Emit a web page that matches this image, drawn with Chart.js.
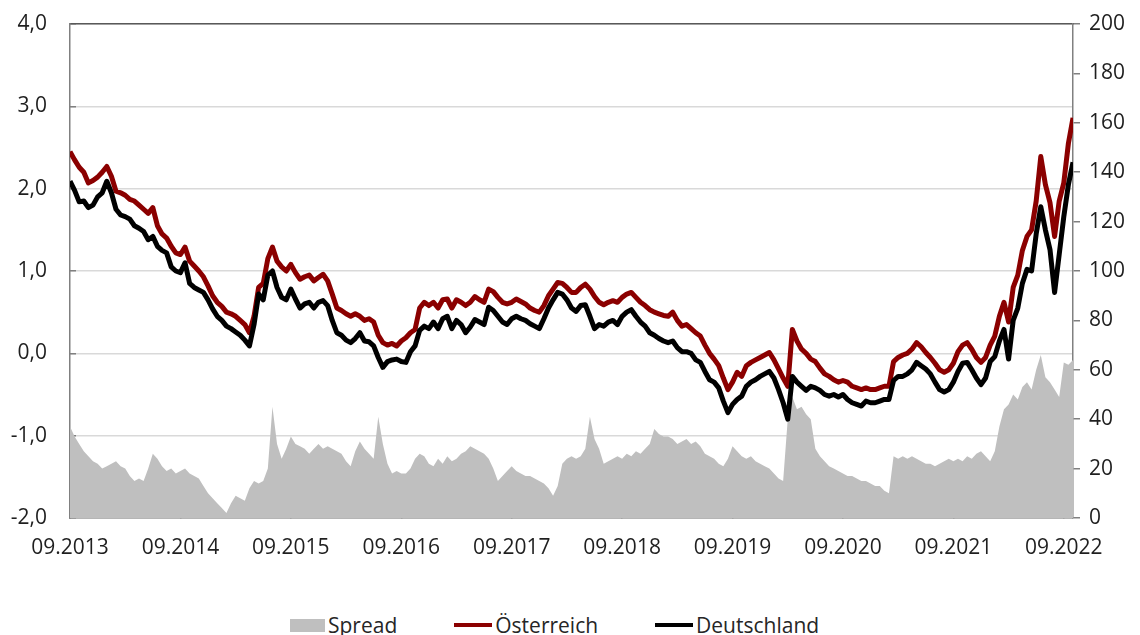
<!DOCTYPE html>
<html>
<head>
<meta charset="utf-8">
<script src="https://cdn.jsdelivr.net/npm/chart.js@4/dist/chart.umd.min.js"></script>
<style>
  html, body { margin: 0; padding: 0; background: #fff; }
  #wrap { position: relative; width: 1140px; height: 635px; }
  #chartBox { position: absolute; left: 0; top: 0; width: 1140px; height: 585px; }
  #legend {
    position: absolute; left: 290px; top: 612px; height: 26px;
    display: flex; align-items: center;
    font-family: 'Open Sans', 'Liberation Sans', sans-serif; font-size: 21px; color: #262626;
  }
  #legend .item { display: flex; align-items: center; margin-right: 57px; }
  #legend .item:last-child { margin-right: 0; }
  #legend .swatch { margin-right: 3px; }
</style>
</head>
<body>
<div id="wrap">
  <div id="chartBox"><canvas id="yieldChart"></canvas></div>
  <div id="legend"></div>
</div>
<script>
// half-month steps starting 09.2013 (index 0) up to 10.2022
const startYear = 2013;
const stepMonths = 0.5;

// 10y yields in %
const oesterreich = [
  2.45, 2.35, 2.26, 2.20, 2.07, 2.10, 2.14, 2.20, 2.27, 2.15, 1.97, 1.95,
  1.92, 1.87, 1.85, 1.80, 1.75, 1.70, 1.77, 1.55, 1.45, 1.40, 1.30, 1.22,
  1.20, 1.29, 1.12, 1.06, 1.00, 0.93, 0.82, 0.70, 0.62, 0.57, 0.50, 0.48,
  0.45, 0.40, 0.35, 0.25, 0.45, 0.80, 0.85, 1.15, 1.29, 1.12, 1.05, 1.00,
  1.08, 0.98, 0.90, 0.93, 0.95, 0.88, 0.92, 0.96, 0.88, 0.72, 0.55, 0.52,
  0.48, 0.45, 0.48, 0.45, 0.40, 0.42, 0.38, 0.22, 0.13, 0.10, 0.12, 0.09,
  0.15, 0.19, 0.25, 0.29, 0.55, 0.62, 0.58, 0.62, 0.55, 0.65, 0.66, 0.55,
  0.65, 0.62, 0.58, 0.62, 0.69, 0.65, 0.62, 0.78, 0.75, 0.68, 0.62, 0.60,
  0.62, 0.66, 0.63, 0.60, 0.55, 0.52, 0.50, 0.58, 0.70, 0.78, 0.86, 0.85,
  0.80, 0.74, 0.74, 0.80, 0.84, 0.78, 0.69, 0.62, 0.59, 0.62, 0.64, 0.62,
  0.68, 0.72, 0.74, 0.68, 0.62, 0.58, 0.53, 0.50, 0.48, 0.46, 0.45, 0.50,
  0.40, 0.33, 0.35, 0.30, 0.25, 0.21, 0.10, 0.00, -0.07, -0.15, -0.30, -0.44,
  -0.35, -0.23, -0.28, -0.15, -0.11, -0.08, -0.05, -0.02, 0.01, -0.08, -0.19, -0.30,
  -0.40, 0.29, 0.15, 0.05, 0.00, -0.07, -0.10, -0.18, -0.25, -0.28, -0.32, -0.35,
  -0.33, -0.35, -0.40, -0.42, -0.44, -0.42, -0.44, -0.44, -0.42, -0.40, -0.40, -0.10,
  -0.05, -0.02, 0.00, 0.05, 0.13, 0.08, 0.01, -0.05, -0.12, -0.20, -0.23, -0.20,
  -0.12, 0.02, 0.10, 0.13, 0.05, -0.05, -0.11, -0.05, 0.10, 0.21, 0.45, 0.62,
  0.38, 0.80, 0.95, 1.25, 1.42, 1.50, 1.85, 2.39, 2.05, 1.83, 1.42, 1.85,
  2.07, 2.55, 2.86
];

const deutschland = [
  2.09, 1.98, 1.84, 1.85, 1.77, 1.80, 1.90, 1.95, 2.09, 1.95, 1.75, 1.68,
  1.66, 1.63, 1.55, 1.52, 1.48, 1.38, 1.42, 1.30, 1.25, 1.22, 1.05, 1.00,
  0.98, 1.10, 0.85, 0.80, 0.77, 0.74, 0.65, 0.54, 0.45, 0.40, 0.33, 0.30,
  0.26, 0.22, 0.16, 0.09, 0.35, 0.72, 0.65, 0.95, 1.00, 0.80, 0.68, 0.65,
  0.78, 0.66, 0.55, 0.60, 0.62, 0.55, 0.62, 0.64, 0.58, 0.40, 0.25, 0.22,
  0.16, 0.13, 0.18, 0.25, 0.15, 0.14, 0.09, -0.05, -0.17, -0.10, -0.08, -0.07,
  -0.10, -0.11, 0.02, 0.09, 0.28, 0.33, 0.30, 0.38, 0.30, 0.42, 0.45, 0.30,
  0.40, 0.35, 0.25, 0.32, 0.41, 0.38, 0.35, 0.56, 0.52, 0.45, 0.38, 0.35,
  0.42, 0.45, 0.42, 0.40, 0.36, 0.33, 0.30, 0.42, 0.55, 0.65, 0.74, 0.72,
  0.65, 0.55, 0.51, 0.58, 0.59, 0.45, 0.30, 0.35, 0.33, 0.38, 0.40, 0.35,
  0.45, 0.50, 0.53, 0.45, 0.38, 0.33, 0.25, 0.22, 0.18, 0.15, 0.13, 0.15,
  0.07, 0.02, 0.02, 0.00, -0.08, -0.11, -0.22, -0.32, -0.35, -0.42, -0.58, -0.72,
  -0.62, -0.56, -0.52, -0.40, -0.35, -0.32, -0.28, -0.25, -0.22, -0.30, -0.44, -0.60,
  -0.80, -0.28, -0.35, -0.40, -0.45, -0.40, -0.42, -0.45, -0.50, -0.52, -0.50, -0.53,
  -0.50, -0.56, -0.60, -0.62, -0.64, -0.58, -0.60, -0.60, -0.58, -0.56, -0.56, -0.33,
  -0.28, -0.28, -0.25, -0.20, -0.11, -0.15, -0.19, -0.25, -0.35, -0.44, -0.47, -0.44,
  -0.35, -0.22, -0.12, -0.11, -0.20, -0.30, -0.38, -0.30, -0.10, -0.04, 0.15, 0.29,
  -0.07, 0.40, 0.55, 0.85, 1.02, 1.00, 1.45, 1.78, 1.50, 1.26, 0.74, 1.20,
  1.66, 2.05, 2.32
];

// spread in basis points (right axis)
const spread = [
  37, 33, 30, 27, 25, 23, 22, 20, 21, 22, 23, 21,
  20, 17, 15, 16, 15, 20, 26, 24, 21, 19, 20, 18,
  19, 20, 18, 17, 16, 13, 10, 8, 6, 4, 2, 6,
  9, 8, 7, 12, 15, 14, 15, 20, 45, 30, 24, 28,
  33, 30, 29, 28, 26, 28, 30, 28, 29, 28, 27, 26,
  23, 21, 27, 31, 28, 26, 24, 41, 30, 22, 18, 19,
  18, 18, 20, 24, 26, 25, 22, 21, 24, 22, 25, 23,
  24, 26, 27, 29, 28, 27, 26, 24, 20, 15, 17, 19,
  21, 19, 18, 17, 17, 16, 15, 14, 12, 9, 13, 22,
  24, 25, 24, 25, 28, 41, 32, 28, 22, 23, 24, 25,
  24, 26, 25, 27, 26, 28, 30, 36, 34, 33, 33, 32,
  30, 31, 32, 30, 31, 29, 26, 25, 24, 22, 21, 24,
  29, 27, 25, 24, 25, 23, 22, 21, 20, 18, 16, 15,
  40, 49, 44, 45, 42, 40, 28, 25, 23, 21, 20, 19,
  18, 17, 17, 16, 15, 15, 14, 13, 13, 11, 10, 25,
  24, 25, 24, 25, 24, 23, 22, 22, 21, 22, 23, 24,
  23, 24, 23, 25, 24, 26, 27, 25, 23, 27, 37, 44,
  46, 50, 48, 53, 55, 52, 60, 66, 57, 55, 52, 49,
  63, 62, 64
];

const leftTicks = [-2, -1, 0, 1, 2, 3, 4];
const rightTicks = [0, 20, 40, 60, 80, 100, 120, 140, 160, 180, 200];
const yearTicks = [0, 12, 24, 36, 48, 60, 72, 84, 96, 108];

const toPoints = arr => arr.map((v, i) => ({ x: i * stepMonths, y: v }));

Chart.defaults.font.family = "'Open Sans', 'Liberation Sans', sans-serif";
Chart.defaults.font.size = 21;
Chart.defaults.color = '#1f1f1f';

// fixed axis sizes so the plot area sits where the original has it
const fixVertical = width => s => {
  s.width = width;
  s.paddingTop = 0;
  s.paddingBottom = 0;
};

const ctx = document.getElementById('yieldChart').getContext('2d');
const chart = new Chart(ctx, {
  type: 'line',
  data: {
    datasets: [
      {
        label: 'Spread',
        data: toPoints(spread),
        yAxisID: 'y2',
        fill: 'origin',
        backgroundColor: '#bfbfbf',
        borderColor: '#bfbfbf',
        borderWidth: 0,
        pointRadius: 0,
        tension: 0,
        order: 3
      },
      {
        label: 'Österreich',
        data: toPoints(oesterreich),
        yAxisID: 'y',
        borderColor: '#8b0000',
        backgroundColor: '#8b0000',
        borderWidth: 5,
        borderJoinStyle: 'round',
        pointRadius: 0,
        tension: 0,
        order: 2
      },
      {
        label: 'Deutschland',
        data: toPoints(deutschland),
        yAxisID: 'y',
        borderColor: '#000000',
        backgroundColor: '#000000',
        borderWidth: 5,
        borderJoinStyle: 'round',
        pointRadius: 0,
        tension: 0,
        order: 1
      }
    ]
  },
  options: {
    responsive: true,
    maintainAspectRatio: false,
    animation: false,
    layout: { padding: { top: 24, bottom: 0, left: 0, right: 0 } },
    scales: {
      x: {
        type: 'linear',
        min: 0,
        max: 109,
        afterFit: s => { s.height = 67; },
        afterBuildTicks: s => { s.ticks = yearTicks.map(v => ({ value: v })); },
        ticks: {
          padding: 23,
          maxRotation: 0,
          autoSkip: false,
          callback: v => '09.' + (startYear + v / 12)
        },
        grid: { drawOnChartArea: false, drawTicks: true, tickLength: -6, color: '#808080', lineWidth: 1.5 },
        border: { color: '#808080', width: 1.5 }
      },
      xTop: {
        type: 'linear',
        position: 'top',
        min: 0,
        max: 109,
        afterFit: s => { s.height = 0; },
        ticks: { display: false },
        grid: { drawOnChartArea: false, drawTicks: false },
        border: { color: '#595959', width: 1.5 }
      },
      y: {
        position: 'left',
        min: -2,
        max: 4,
        afterFit: fixVertical(70),
        afterBuildTicks: s => { s.ticks = leftTicks.map(v => ({ value: v })); },
        ticks: {
          padding: 29,
          callback: v => v.toFixed(1).replace('.', ',')
        },
        grid: { color: '#d9d9d9', lineWidth: 1.5, drawTicks: true, tickLength: -6, tickColor: '#808080' },
        border: { color: '#808080', width: 1.5 }
      },
      y2: {
        position: 'right',
        min: 0,
        max: 200,
        afterFit: fixVertical(67),
        afterBuildTicks: s => { s.ticks = rightTicks.map(v => ({ value: v })); },
        ticks: { padding: 9 },
        grid: { drawOnChartArea: false, tickLength: 7, color: '#808080', lineWidth: 1.5 },
        border: { color: '#808080', width: 1.5 }
      }
    },
    plugins: {
      tooltip: { enabled: false },
      legend: { display: false }
    }
  }
});

// legend below the chart, built from the datasets
const legendEl = document.getElementById('legend');
chart.data.datasets.forEach((ds, i) => {
  const item = document.createElement('div');
  item.className = 'item';
  const sw = document.createElement('span');
  sw.className = 'swatch';
  if (i === 0) {
    sw.style.cssText = 'display:inline-block;width:35px;height:13px;background:' + ds.backgroundColor;
  } else {
    sw.style.cssText = 'display:inline-block;width:38px;height:4px;background:' + ds.borderColor;
  }
  const txt = document.createElement('span');
  txt.textContent = ds.label;
  item.appendChild(sw);
  item.appendChild(txt);
  legendEl.appendChild(item);
});
</script>
</body>
</html>
